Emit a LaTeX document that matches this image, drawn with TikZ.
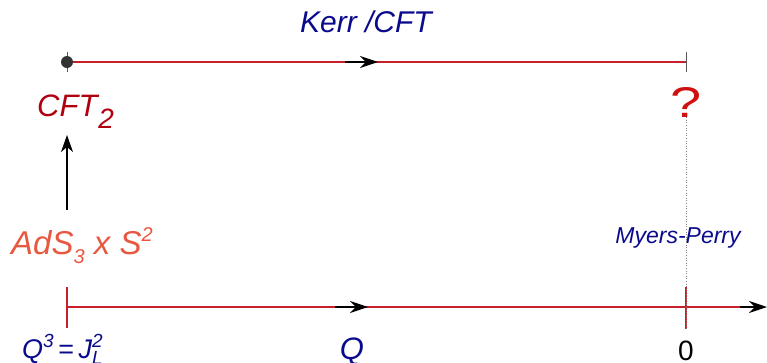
\documentclass[tikz,border=0pt]{standalone}
\usepackage{fontspec}
\setmainfont{Liberation Sans}
\usetikzlibrary{arrows.meta}
\definecolor{axisred}{HTML}{C8202A}
\definecolor{navy}{HTML}{0A0A8C}
\definecolor{cftred}{HTML}{B00010}
\definecolor{adsred}{HTML}{E8573F}
\definecolor{qred}{HTML}{D01010}
\tikzset{
  axisline/.style={axisred, line width=2pt},
  midarrow/.style={black, line width=2pt, -{Stealth[length=18pt,width=12pt,inset=6pt]}},
  ticktop/.style={gray!70!black, line width=0.9pt},
  tickred/.style={axisred, line width=2pt},
  lbl/.style={inner sep=0pt, anchor=base},
}
\begin{document}
\begin{tikzpicture}[x=1pt,y=-1pt]
\useasboundingbox (0,0) rectangle (767,362);
% coordinates
\coordinate (tA) at (67,62);
\coordinate (tB) at (686,62);
\coordinate (tMs) at (345,62);
\coordinate (tMe) at (378,62);
\coordinate (bA) at (67,307);
\coordinate (bMs) at (335,307);
\coordinate (bMe) at (368,307);
\coordinate (bArrS) at (740,307);
\coordinate (bEnd) at (767,307);
\coordinate (bZ) at (686,307);
\coordinate (vS) at (67,210);
\coordinate (vE) at (67,135);
% top line
\draw[axisline] (tA) -- (tB);
\draw[midarrow] (tMs) -- (tMe);
\draw[ticktop] ([yshift=-10pt]tB) -- ([yshift=10pt]tB);
\draw[ticktop] ([yshift=-10pt]tA) -- ([yshift=10pt]tA);
\fill[black!80] (tA) circle (6pt);
% bottom axis
\draw[axisline] (bA) -- (bArrS);
\draw[midarrow] (bMs) -- (bMe);
\draw[midarrow] (bArrS) -- (bEnd);
\draw[tickred] ([yshift=-21pt]bA) -- ([yshift=20pt]bA);
\draw[tickred] ([yshift=-22pt]bZ) -- ([yshift=20pt]bZ);
% labels
\node[lbl, navy] (kerr) at (366,32) {\fontsize{30}{36}\selectfont\itshape Kerr /CFT};
\node[lbl, cftred, anchor=base west] (cft) at (37,116) {\fontsize{31}{36}\selectfont\itshape CFT\kern1pt\raisebox{-12pt}{\fontsize{28}{30}\selectfont 2}};
\node[lbl, adsred, anchor=base west] (ads) at (11,254) {\fontsize{33}{38}\selectfont\itshape AdS\raisebox{-9pt}{\fontsize{20}{24}\selectfont 3} x S\raisebox{13pt}{\fontsize{20}{24}\selectfont 2}};
\node[lbl, qred] (q) at (686,117) {\scalebox{1.3}[1]{\fontsize{43}{48}\selectfont ?}};
\node[lbl, navy] (mp) at (678,243) {\fontsize{23}{28}\selectfont\itshape Myers-Perry};
\node[lbl, black] (zero) at (686,360) {\fontsize{28}{34}\selectfont 0};
\node[lbl, navy] (Q) at (352,359) {\fontsize{31}{36}\selectfont\itshape Q};
\node[lbl, navy, anchor=base west] (rel) at (22,358) {\fontsize{27}{32}\selectfont\itshape Q\raisebox{11pt}{\fontsize{19}{22}\selectfont 3}\,\upshape=\,\itshape J\rlap{\raisebox{11pt}{\fontsize{19}{22}\selectfont 2}}\raisebox{-6pt}{\fontsize{19}{22}\selectfont L}};
% connectors
\draw[black, line width=1.2pt, -{Stealth[length=17pt,width=12pt,inset=5pt]}] (vS) -- (vE);
\draw[gray, line width=0.6pt, dotted] (q.south) -- ([yshift=-22pt]bZ);
\end{tikzpicture}
\end{document}
